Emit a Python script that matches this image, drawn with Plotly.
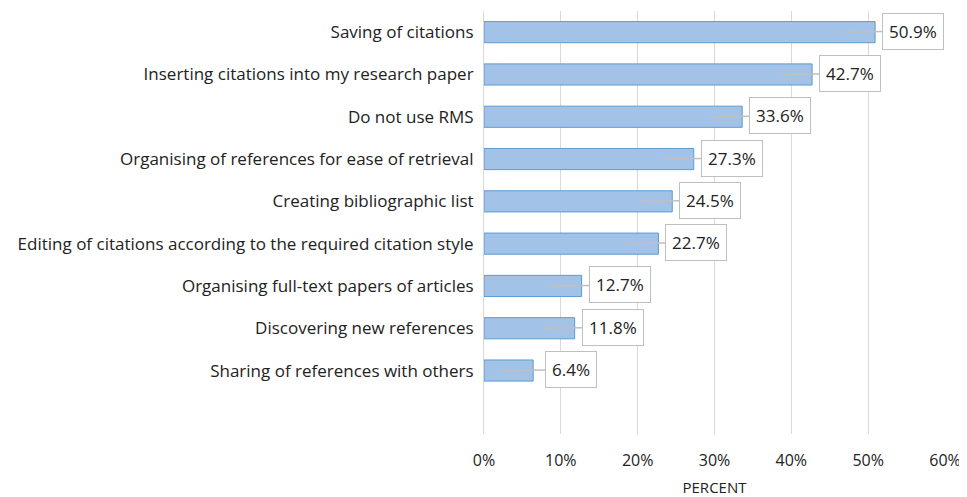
import plotly.graph_objects as go

categories = [
    "Sharing of references with others",
    "Discovering new references",
    "Organising full-text papers of articles",
    "Editing of citations according to the required citation style",
    "Creating bibliographic list",
    "Organising of references for ease of retrieval",
    "Do not use RMS",
    "Inserting citations into my research paper",
    "Saving of citations",
]
values = [6.4, 11.8, 12.7, 22.7, 24.5, 27.3, 33.6, 42.7, 50.9]
tick_vals = [0, 10, 20, 30, 40, 50, 60]
tick_text = ["0%", "10%", "20%", "30%", "40%", "50%", "60%"]

FONT = "Open Sans, sans-serif"

fig = go.Figure()
fig.add_trace(go.Bar(
    x=values, y=categories, orientation="h", width=0.5,
    marker=dict(color="#a3c2e8", line=dict(color="#5b9bd5", width=1)),
    hoverinfo="skip",
))

for c, v in zip(categories, values):
    fig.add_annotation(
        x=v, y=c, xref="x", yref="y", xshift=-32,
        text=f"{v:.1f}%", showarrow=True, arrowhead=0, arrowwidth=1.5,
        arrowcolor="#bfbfbf", ax=70, ay=-1,
        bgcolor="white", bordercolor="#bfbfbf", borderwidth=1, borderpad=6,
        font=dict(family=FONT, size=17, color="#222"),
    )

# the page places the figure at an 8px body margin
fig.update_layout(
    width=959, height=489,
    margin=dict(l=476, r=22, t=3, b=63),
    plot_bgcolor="white", paper_bgcolor="white",
    showlegend=False,
    font=dict(family=FONT, size=17, color="#222"),
    xaxis=dict(
        range=[0, 60], tickvals=tick_vals, ticktext=tick_text,
        showgrid=True, gridcolor="#d9d9d9", gridwidth=1,
        zeroline=False, showline=False, ticks="", automargin=False,
        ticklabelstandoff=15,
        title=dict(text="PERCENT", font=dict(size=15), standoff=13),
        tickfont=dict(size=16),
    ),
    yaxis=dict(
        type="category", categoryorder="array", categoryarray=categories,
        range=[-1.5, 8.5], showgrid=False, zeroline=False, automargin=False,
        showline=True, linecolor="#d9d9d9", ticks="", ticklabelstandoff=6,
        tickfont=dict(size=17),
    ),
)

fig.write_html("out.html")
